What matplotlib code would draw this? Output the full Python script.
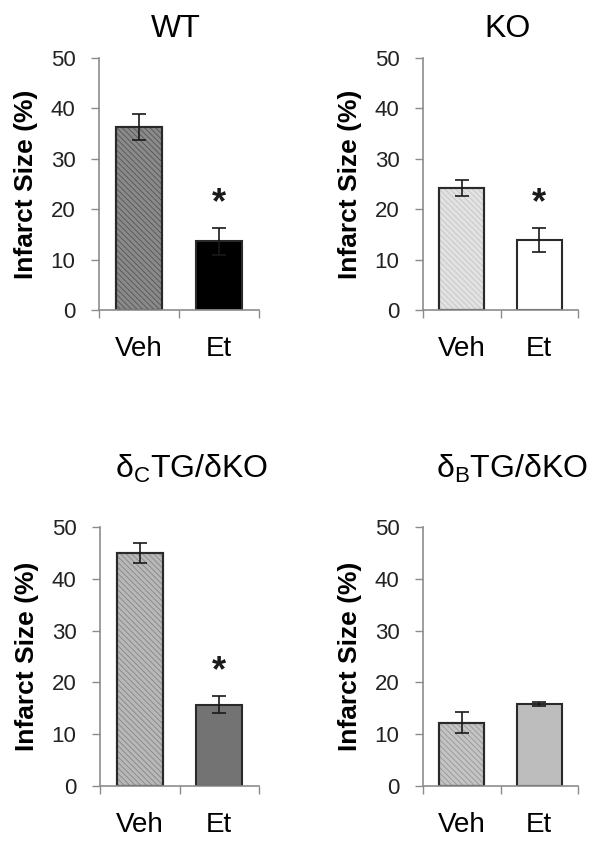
import numpy as np
import matplotlib
matplotlib.use('Agg')
import matplotlib.pyplot as plt

plt.rcParams['font.family'] = ['Liberation Sans', 'DejaVu Sans']
plt.rcParams['mathtext.fontset'] = 'custom'
plt.rcParams['mathtext.rm'] = 'Liberation Sans'
plt.rcParams['hatch.linewidth'] = 0.6

groups = ['Veh', 'Et']
titles = ['WT', 'KO', 'δ$_\\mathrm{C}$TG/δKO', 'δ$_\\mathrm{B}$TG/δKO']
means = [[36.3, 13.6], [24.2, 13.9], [45.0, 15.7], [12.2, 15.9]]
errors = [[2.5, 2.7], [1.5, 2.4], [1.9, 1.6], [2.0, 0.4]]
significant = [[False, True], [False, True], [False, True], [False, False]]

# face colour, hatch colour (None = plain fill)
styles = [
    [('#8a8a8a', '#555555'), ('#000000', None)],
    [('#e2e2e2', '#c4c4c4'), ('#ffffff', None)],
    [('#b8b8b8', '#858585'), ('#737373', None)],
    [('#c4c4c4', '#969696'), ('#bdbdbd', None)],
]

fig = plt.figure(figsize=(6.08, 8.52), dpi=100)
W, H = 608, 852
boxes = [(99, 58, 259, 310), (423, 58, 578, 310),
         (100, 527, 259, 786), (423, 527, 578, 786)]
title_pads = [10, 10, 30, 30]
title_dx = [-2, 5, 9, 8]

spine_col = '#8c8c8c'
x = np.arange(len(groups))

for i, (l, t, r, b) in enumerate(boxes):
    ax = fig.add_axes([l / W, 1 - b / H, (r - l) / W, (b - t) / H])
    for j in range(len(groups)):
        face, hcol = styles[i][j]
        ax.bar(x[j], means[i][j], width=0.58, color=face, edgecolor='#2a2a2a',
               linewidth=1.5, zorder=2)
        if hcol is not None:
            ax.bar(x[j], means[i][j], width=0.58, color='none', edgecolor=hcol,
                   hatch='\\\\\\\\\\\\', linewidth=0, zorder=2)
            ax.bar(x[j], means[i][j], width=0.58, color='none', edgecolor='#2a2a2a',
                   linewidth=1.5, zorder=2)
        ax.errorbar(x[j], means[i][j], yerr=errors[i][j], fmt='none', ecolor='#1a1a1a',
                    elinewidth=1.2, capsize=5, capthick=1.2, zorder=3)
        if significant[i][j]:
            ax.text(x[j], means[i][j] + errors[i][j] + 1.4, '*', ha='center', va='bottom',
                    fontsize=26, fontweight='bold', color='#1a1a1a')

    ax.set_xlim(-0.5, 1.5)
    ax.set_ylim(0, 50)
    ax.set_yticks(np.arange(0, 51, 10))
    ax.set_xticks([-0.5, 0.5, 1.5])
    ax.set_xticklabels([])
    ax.set_xticks(x, minor=True)
    ax.set_xticklabels(groups, minor=True, fontsize=20)
    ax.tick_params(axis='x', which='minor', length=0, pad=19)
    ax.tick_params(axis='x', which='major', length=6, width=1, color=spine_col, direction='out')
    ax.tick_params(axis='y', length=6, width=1, color=spine_col, labelsize=16,
                   pad=11, labelcolor='#222222')
    for side in ['top', 'right']:
        ax.spines[side].set_visible(False)
    for side in ['left', 'bottom']:
        ax.spines[side].set_color(spine_col)
        ax.spines[side].set_linewidth(1.2)
    ax.set_ylabel('Infarct Size (%)', fontsize=19, fontweight='bold', labelpad=9)
    ax.annotate(titles[i], xy=(0.5, 1), xycoords='axes fraction',
                xytext=(title_dx[i], title_pads[i]), textcoords='offset points',
                ha='center', va='bottom', fontsize=23)

fig.savefig('out.png', dpi=100)
